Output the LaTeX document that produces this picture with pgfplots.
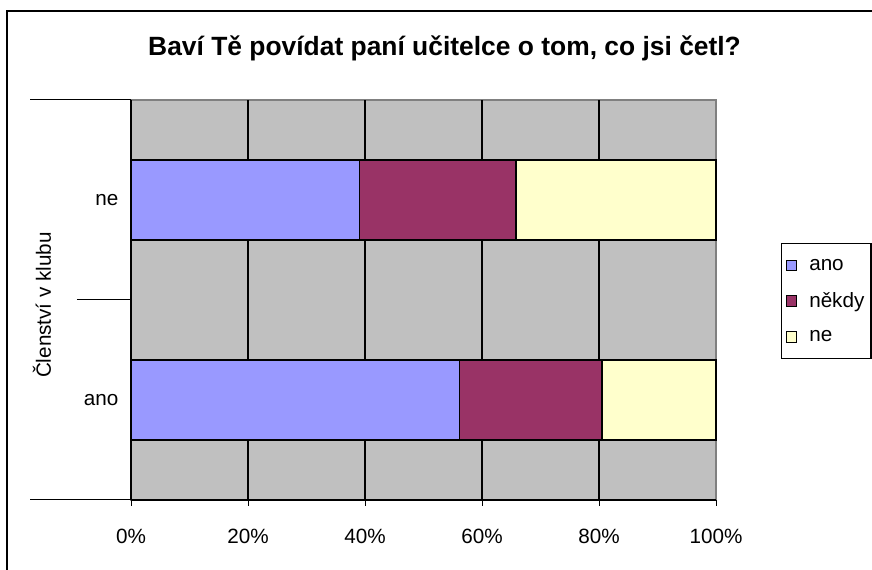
\documentclass[border=0pt]{standalone}
\usepackage{pgfplots}
\pgfplotsset{compat=1.18}
\usepackage{fontspec}
\setmainfont{Liberation Sans}
\definecolor{cano}{HTML}{9999FF}
\definecolor{cnekdy}{HTML}{993366}
\definecolor{cne}{HTML}{FFFFCC}
\definecolor{bgc}{HTML}{C0C0C0}
\definecolor{bordc}{HTML}{808080}
\newcommand\lbl{\fontsize{15.5}{18.6}\selectfont}

\begin{document}
\begin{tikzpicture}
\path[use as bounding box] (0,0) rectangle (654pt,427.5pt);
\draw[line width=1.1pt] (5.25pt,0) -- (5.25pt,419.25pt) -- (654pt,419.25pt);
\node[font=\fontsize{19.8}{24}\selectfont\bfseries] at (333.4pt,391pt) {Baví Tě povídat paní učitelce o tom, co jsi četl?};
\node[rotate=90, font=\lbl] at (31.5pt,198.75pt) {Členství v klubu};
\begin{axis}[
  at={(98.25pt,52.5pt)}, anchor=south west,
  width=438.75pt, height=300pt, scale only axis,
  clip=false,
  xbar stacked, bar width=60pt,
  xmin=0, xmax=100, ymin=0, ymax=2,
  axis x line*=bottom, axis y line*=left,
  axis line style={-, black, line width=0.9pt},
  axis background/.style={fill=bgc, draw=bordc, line width=0.9pt},
  tick align=outside, major tick length=4.5pt,
  xtick={0,20,40,60,80,100},
  xticklabels={0\%,20\%,40\%,60\%,80\%,100\%},
  xtick style={black, line width=0.75pt},
  ytick={0.5,1.5}, yticklabels={ano,ne},
  ytick style={draw=none},
  extra y ticks={1}, extra y tick labels={},
  extra y tick style={major tick length=40.5pt, tick align=outside, ytick style={draw=black, line width=0.75pt}},
  extra x ticks={20,40,60,80}, extra x tick labels={},
  extra x tick style={grid=major, major grid style={black, line width=0.9pt}},
  tick label style={font=\lbl},
  xticklabel style={yshift=-13.5pt},
  yticklabel style={xshift=-1.5pt},
  legend image code/.code={\draw[#1, draw=black, line width=0.75pt] (0pt,-4pt) rectangle (8pt,4pt);},
  legend cell align=left,
  legend style={at={(1.1111,0.6425)}, anchor=north west, draw=black, line width=0.9pt,
    font=\lbl, row sep=11.5pt, inner xsep=3pt, inner ysep=9.5pt,
    /tikz/every odd column/.style={column sep=7pt}},
  every axis plot/.append style={draw=black, line width=0.9pt},
]
\addplot[fill=cano] coordinates {(56.2,0.5) (39.0,1.5)};
\addplot[fill=cnekdy] coordinates {(24.3,0.5) (26.8,1.5)};
\addplot[fill=cne] coordinates {(19.5,0.5) (34.2,1.5)};
\legend{ano,někdy,ne}
\draw[black, line width=0.75pt] (axis cs:0,2) -- ++(-75.75pt,0);
\draw[black, line width=0.75pt] (axis cs:0,0) -- ++(-75.75pt,0);
\end{axis}
\end{tikzpicture}
\end{document}
